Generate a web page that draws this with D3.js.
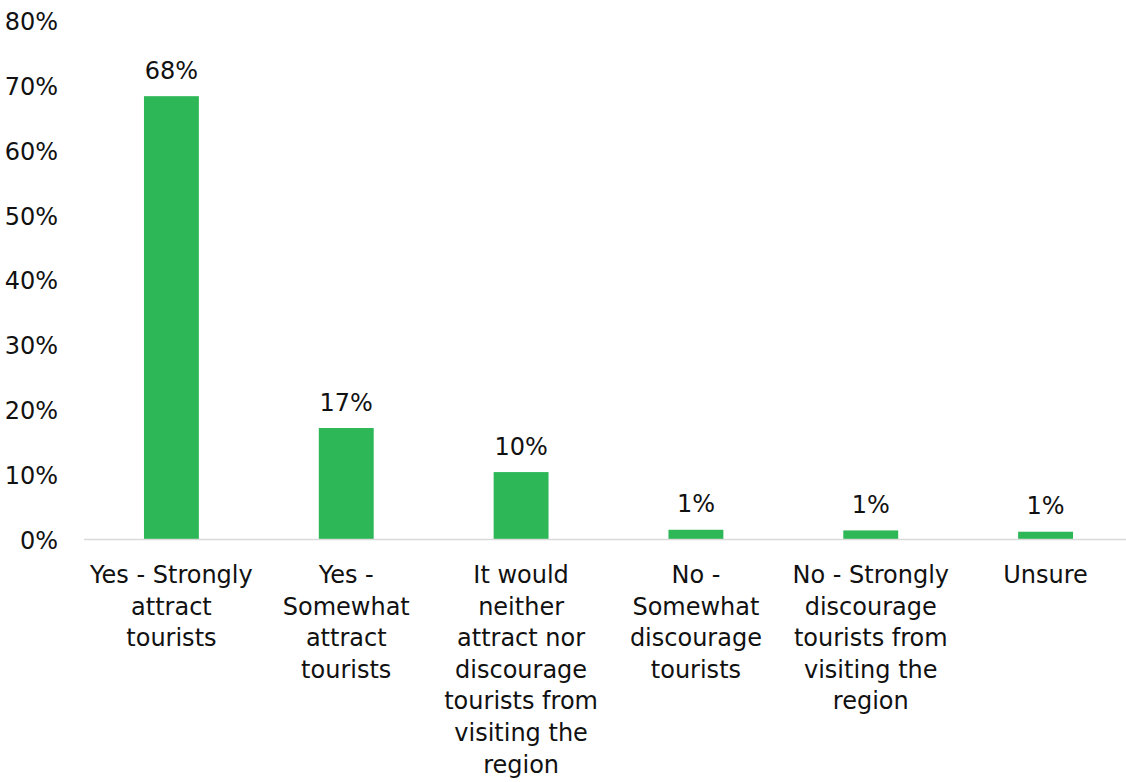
<!DOCTYPE html>
<html>
<head>
<meta charset="utf-8">
<script src="https://cdn.jsdelivr.net/npm/d3@7"></script>
<style>
  html, body { margin: 0; padding: 0; background: #fff; }
  svg { display: block; }
  text { font-family: "DejaVu Sans", sans-serif; font-size: 24px; fill: #111; }
</style>
</head>
<body>
<svg id="chart" width="1126" height="782"></svg>
<script>
// Survey responses: would this attract tourists to the region?
const categories = [
  "Yes - Strongly attract tourists",
  "Yes - Somewhat attract tourists",
  "It would neither attract nor discourage tourists from visiting the region",
  "No - Somewhat discourage tourists",
  "No - Strongly discourage tourists from visiting the region",
  "Unsure"
];
const values = [0.684, 0.172, 0.104, 0.015, 0.014, 0.012];
const valueLabels = ["68%", "17%", "10%", "1%", "1%", "1%"];
const yTicks = [0, 0.1, 0.2, 0.3, 0.4, 0.5, 0.6, 0.7, 0.8];

const svg = d3.select("#chart");
const width = 1126;

const x = d3.scaleBand()
  .domain(categories)
  .range([84, 1133])
  .paddingInner(0.686)
  .paddingOuter(0.343);

const y = d3.scaleLinear()
  .domain([0, 0.8])
  .range([539.5, 21]);

// Y axis labels (no axis line, no gridlines)
const yAxis = d3.axisLeft(y)
  .tickValues(yTicks)
  .tickFormat(d3.format(".0%"))
  .tickSize(0)
  .tickPadding(0);

svg.append("g")
  .attr("transform", "translate(58,0)")
  .call(yAxis)
  .call(g => g.select(".domain").remove())
  .call(g => g.selectAll("text")
    .attr("font-family", null)
    .attr("font-size", null)
    .attr("fill", "#111")
    .attr("dy", "0.36em"));

// Bars
svg.append("g")
  .selectAll("rect")
  .data(values)
  .join("rect")
  .attr("x", (d, i) => x(categories[i]))
  .attr("width", x.bandwidth())
  .attr("y", d => y(d))
  .attr("height", d => y(0) - y(d))
  .attr("fill", "#2db757");

// Baseline
svg.append("line")
  .attr("x1", 84)
  .attr("x2", width)
  .attr("y1", y(0))
  .attr("y2", y(0))
  .attr("stroke", "#d9d9d9")
  .attr("stroke-width", 1.5);

// Value labels above bars
svg.append("g")
  .selectAll("text")
  .data(values)
  .join("text")
  .attr("x", (d, i) => x(categories[i]) + x.bandwidth() / 2)
  .attr("y", d => y(d) - 17.5)
  .attr("text-anchor", "middle")
  .text((d, i) => valueLabels[i]);

// Category labels, wrapped to the band width
function wrapWords(text, maxWidth, measure) {
  const words = text.split(" ");
  const lines = [];
  let line = "";
  for (const w of words) {
    const trial = line ? line + " " + w : w;
    if (line && measure(trial) > maxWidth) {
      lines.push(line);
      line = w;
    } else {
      line = trial;
    }
  }
  if (line) lines.push(line);
  return lines;
}

const probe = svg.append("text").attr("visibility", "hidden");
const measure = s => { probe.text(s); return probe.node().getComputedTextLength(); };

const lineHeight = 31.6;
const xLabels = svg.append("g");
categories.forEach(c => {
  const lines = wrapWords(c, 172, measure);
  const t = xLabels.append("text")
    .attr("x", x(c) + x.bandwidth() / 2)
    .attr("y", 583)
    .attr("text-anchor", "middle");
  lines.forEach((ln, j) => {
    t.append("tspan")
      .attr("x", x(c) + x.bandwidth() / 2)
      .attr("y", 583 + j * lineHeight)
      .text(ln);
  });
});
probe.remove();
</script>
</body>
</html>
